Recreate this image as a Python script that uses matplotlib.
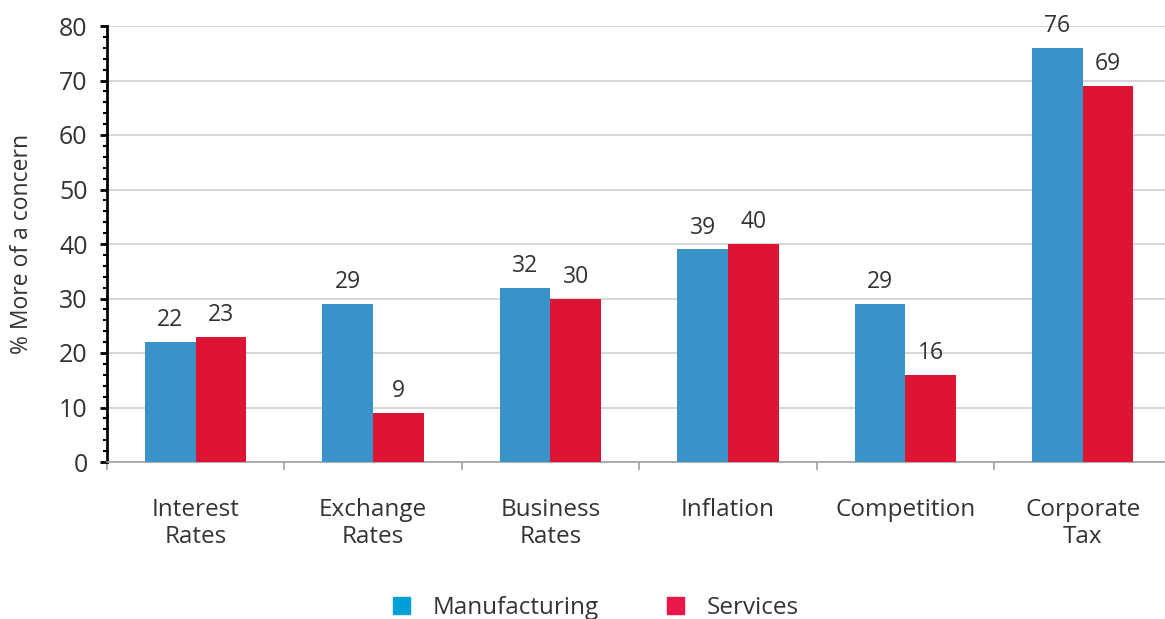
import matplotlib
matplotlib.use("Agg")
import matplotlib.pyplot as plt
import numpy as np
from matplotlib.ticker import MultipleLocator
from matplotlib.patches import Patch

categories = ["Interest\nRates", "Exchange\nRates", "Business\nRates", "Inflation", "Competition", "Corporate\nTax"]
manufacturing = [22, 29, 32, 39, 29, 76]
services = [23, 9, 30, 40, 16, 69]
series_names = ["Manufacturing", "Services"]

bar_blue = "#3A93C8"
bar_red = "#DD1533"
leg_blue = "#009FDA"
leg_red = "#E8194A"
txt = "#333333"

plt.rcParams['font.family'] = ['Open Sans', 'DejaVu Sans']

fig = plt.figure(figsize=(11.65, 6.19), dpi=100)
ax = fig.add_axes([107/1165, 1-462/619, 1-107/1165, (462-26)/619])

x = np.arange(len(categories))
w = 0.286
b1 = ax.bar(x - w/2, manufacturing, w, color=bar_blue, zorder=3)
b2 = ax.bar(x + w/2, services, w, color=bar_red, zorder=3)

for bars, vals in ((b1, manufacturing), (b2, services)):
    for r, v in zip(bars, vals):
        ax.annotate(f"{v}", (r.get_x() + r.get_width()/2, v), xytext=(0, 7),
                    textcoords="offset points", ha="center", va="bottom",
                    fontsize=16.5, color=txt)

ax.yaxis.set_major_locator(MultipleLocator(10))
ax.yaxis.set_minor_locator(MultipleLocator(2))
ax.grid(axis="y", color="#D0D0D0", linewidth=1.2, zorder=0)
ax.set_axisbelow(True)

for s in ("top", "right"):
    ax.spines[s].set_visible(False)
ax.spines["left"].set_color("black")
ax.spines["left"].set_linewidth(2)
ax.spines["bottom"].set_color("#A0A0A0")
ax.spines["bottom"].set_linewidth(1.2)

ax.tick_params(axis="y", which="major", length=5, width=2, color="black", pad=9,
               labelsize=18, labelcolor=txt)
ax.tick_params(axis="y", which="minor", length=3, width=1.5, color="black")

# x: category labels at centers, tick marks at boundaries
ax.set_xticks(x)
ax.set_xticklabels(categories, fontsize=17.5, color=txt, linespacing=1.15, va="top")
ax.tick_params(axis="x", which="major", length=0, pad=26)
ax.set_xticks(np.arange(-0.5, len(categories) - 1, 1.0), minor=True)
ax.tick_params(axis="x", which="minor", length=6, width=1.2, color="#A0A0A0", direction="out")

ax.set_ylim(0, 80)
ax.set_xlim(-0.5, 5.464)

ax.set_ylabel("% More of a concern", fontsize=16.5, color=txt, labelpad=18)

handles = [Patch(color=leg_blue), Patch(color=leg_red)]
fig.legend(handles, series_names, loc="center", bbox_to_anchor=(596/1165, 1-608/619),
           ncol=2, frameon=False, fontsize=17.5, handlelength=0.7, handleheight=0.7,
           columnspacing=2.8, handletextpad=0.95, labelcolor=txt)

fig.savefig("out.png", dpi=100)
